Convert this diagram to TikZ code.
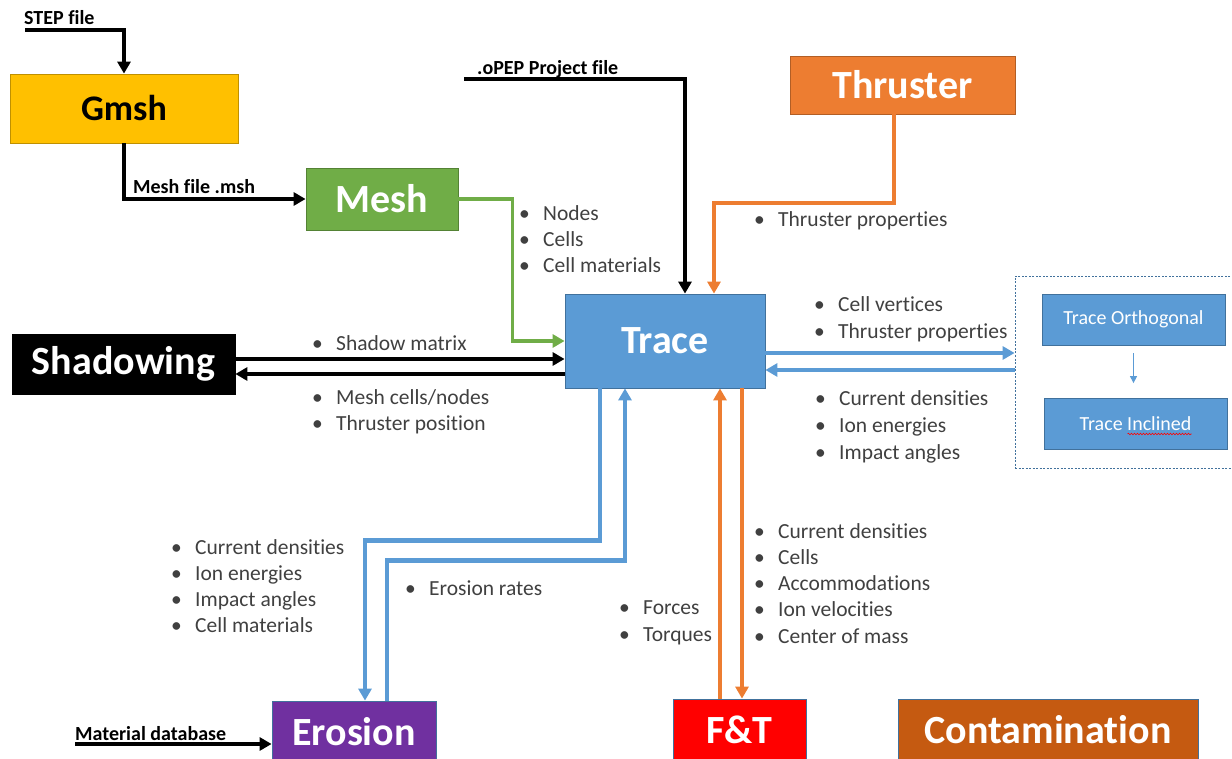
\documentclass[tikz,border=0pt]{standalone}
\usepackage{fontspec}
\setmainfont{Carlito}[Ligatures=NoCommon]
\usetikzlibrary{arrows.meta,decorations.pathmorphing}

\definecolor{gmshc}{HTML}{FFC000}
\definecolor{meshc}{HTML}{70AD47}
\definecolor{thrustc}{HTML}{ED7D31}
\definecolor{tracec}{HTML}{5B9BD5}
\definecolor{erosc}{HTML}{7030A0}
\definecolor{ftc}{HTML}{FF0000}
\definecolor{contc}{HTML}{C55A11}
\definecolor{edgec}{HTML}{41719C}
\definecolor{listc}{HTML}{404040}

\newcommand{\titlefont}{\bfseries\fontsize{40}{44}\selectfont}
\newcommand{\gmshfont}{\bfseries\fontsize{36}{40}\selectfont}
\newcommand{\bodyfont}{\fontsize{21.5}{26}\selectfont}
\newcommand{\labelfont}{\bfseries\fontsize{20}{24}\selectfont}

% name, x, y of first baseline, line step, items
\newcommand{\bulletlist}[5]{%
  \foreach \txt [count=\i] in {#5}
    \node[item] (#1-\i) at (#2, {#3+#4*(\i-1)}) {\makebox[24pt][l]{\textbullet}\txt};
}

\tikzset{
  block/.style={draw=#1!75!black, fill=#1, line width=0.8pt, inner sep=0pt,
    text=white, font=\titlefont},
  sub/.style={draw=edgec, fill=tracec, line width=0.8pt, inner sep=0pt,
    text=white, font=\fontsize{20}{24}\selectfont,
    minimum width=183pt, minimum height=51pt},
  item/.style={anchor=base west, inner sep=0pt, text=listc, font=\bodyfont},
  filelabel/.style={anchor=base west, inner sep=0pt, font=\labelfont},
  flowk/.style={draw=black, line width=3.6pt, -{Triangle[length=12pt,width=13pt]}},
  flowb/.style={draw=tracec, line width=4.5pt, -{Triangle[length=12pt,width=13pt]}},
  flowo/.style={draw=thrustc, line width=4pt, -{Triangle[length=12pt,width=13pt]}},
  flowg/.style={draw=meshc, line width=3.6pt, -{Triangle[length=12pt,width=13pt]}},
}

\begin{document}
\begin{tikzpicture}[x=1pt,y=-1pt]
\useasboundingbox (0,0) rectangle (1232,759);

% Blocks
\node[block=gmshc, text=black, font=\gmshfont, minimum width=228pt, minimum height=69pt] (gmsh) at (124,108.5) {Gmsh};
\node[block=meshc, minimum width=152pt, minimum height=62pt] (mesh) at (382,199) {Mesh};
\node[block=thrustc, minimum width=225pt, minimum height=58pt] (thruster) at (902.5,85) {Thruster};
\node[block=tracec, draw=edgec, minimum width=200pt, minimum height=94pt] (trace) at (665,341) {Trace};
\node[block=black, minimum width=223pt, minimum height=60pt] (shadow) at (123.5,364) {Shadowing};
\node[block=erosc, draw=edgec, minimum width=164pt, minimum height=62pt] (erosion) at (354,732) {Erosion};
\node[block=ftc, draw=edgec, minimum width=133pt, minimum height=62pt] (ft) at (739.5,730) {F\&T};
\node[block=contc, draw=edgec, minimum width=300pt, minimum height=62pt] (contam) at (1048,730) {Contamination};

% Trace variants
\node[draw=edgec, dashed, dash pattern=on 2pt off 1.5pt, line width=0.8pt, minimum width=218pt, minimum height=192pt] (tracebox) at (1124,372) {};
\node[sub] (ortho) at (1133.5,319.5) {Trace Orthogonal};
\node[sub] (inclined) at (1135.5,424) {Trace Inclined};
\draw[draw=tracec, line width=1.2pt, -{Triangle[length=7pt,width=7pt]}, shorten <=8pt, shorten >=15pt] (ortho.south) -- (ortho.south |- inclined.north);
\draw[red, line width=0.6pt, decorate, decoration={snake, amplitude=0.8pt, segment length=3pt}] ([xshift=-8pt,yshift=-10pt]inclined.center) -- ++(64,0);

% Input files
\coordinate (stepin) at (25,30);
\coordinate (opepin) at (464,79);
\coordinate (matin) at (75,744);
\node[filelabel] (steplbl) at (24,25) {STEP file};
\node[filelabel] (mshlbl) at (133,194) {Mesh file .msh};
\node[filelabel] (opeplbl) at (477,75) {.oPEP Project file};
\node[filelabel] (matlbl) at (75,740) {Material database};

\draw[flowk] (stepin) -| (gmsh.north);
\draw[flowk] (gmsh.south) |- (mesh.west);
\draw[flowk] (opepin) -| ([xshift=20pt]trace.north);
\draw[flowk] (matin) -- (erosion.west |- matin);

% Links to Trace
\draw[flowg] (mesh.east) -- ++(54,0) |- (trace.west);
\draw[flowo] ([xshift=-9pt]thruster.south) -- ++(0,89) -| ([xshift=49pt]trace.north);
\draw[flowk] ([yshift=5pt]shadow.east) -- ([yshift=-18pt]trace.west);
\draw[flowk] ([yshift=-33pt]trace.west) -- ([yshift=-10pt]shadow.east);
\draw[flowb] ([yshift=-12pt]trace.east) -- ([yshift=19pt]tracebox.west);
\draw[flowb] ([yshift=2pt]tracebox.west) -- ([yshift=-29pt]trace.east);
\draw[flowb] ([xshift=-65pt]trace.south) -- ++(0,152) -| ([xshift=11pt]erosion.north);
\draw[flowb] ([xshift=33pt]erosion.north) -- ++(0,-140) -| ([xshift=-40pt]trace.south);
\draw[flowo] ([xshift=-19.5pt]ft.north) -- ([xshift=55pt]trace.south);
\draw[flowo] ([xshift=77pt]trace.south) -- ([xshift=2.5pt]ft.north);

% Exchanged data
\bulletlist{meshdata}{519}{221}{26}{Nodes,Cells,Cell materials}
\bulletlist{thrustdata}{754}{227}{26}{Thruster properties}
\bulletlist{toengine}{814}{312}{27}{Cell vertices,Thruster properties}
\bulletlist{fromengine}{815}{406}{26.5}{Current densities,Ion energies,Impact angles}
\bulletlist{shadowout}{312}{351}{26}{Shadow matrix}
\bulletlist{shadowin}{312}{404}{26}{Mesh cells/nodes,Thruster position}
\bulletlist{erosin}{171}{554}{26.3}{Current densities,Ion energies,Impact angles,Cell materials}
\bulletlist{erosout}{405}{595}{26}{Erosion rates}
\bulletlist{ftout}{619}{614}{27}{Forces,Torques}
\bulletlist{ftin}{754}{538}{26.3}{Current densities,Cells,Accommodations,Ion velocities,Center of mass}
\end{tikzpicture}
\end{document}
